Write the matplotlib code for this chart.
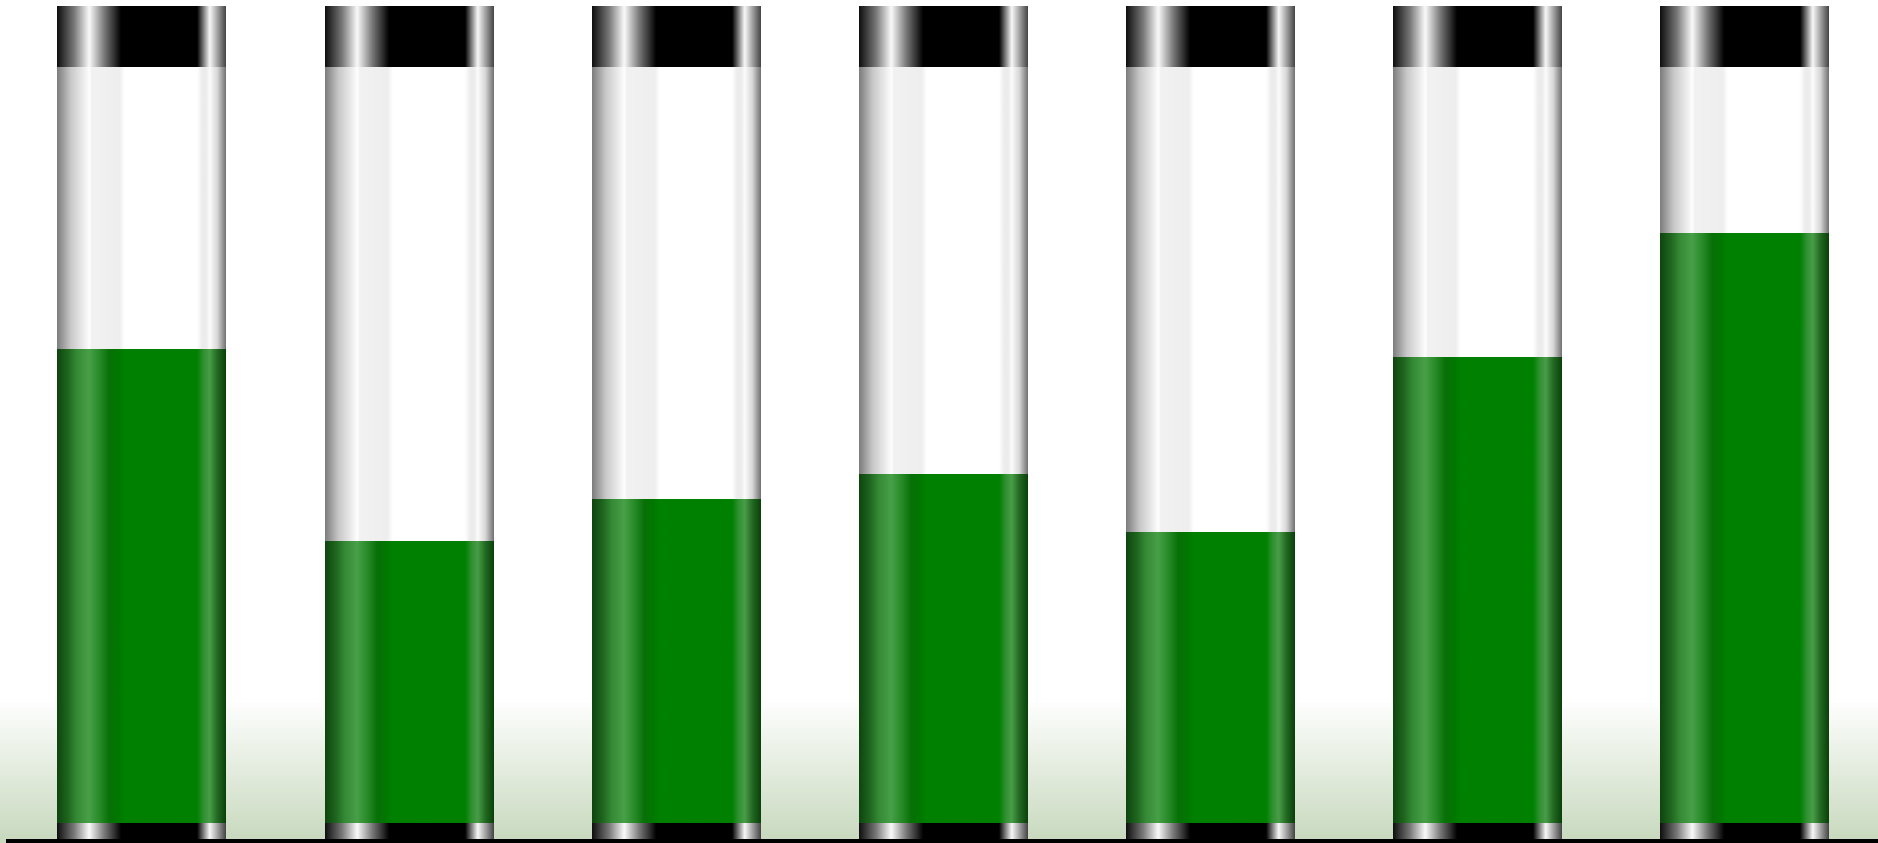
import matplotlib
matplotlib.use('Agg')
import matplotlib.pyplot as plt
import numpy as np

# fill level of each tube, in percent of the tube's capacity
categories = ['1', '2', '3', '4', '5', '6', '7']
values = [62.7, 37.3, 42.9, 46.2, 38.5, 61.6, 78.1]
capacity = 100.0

fname = 'out.png'
width = 0.63        # bar width, as fraction of a category slot
cap_top = 7.94      # height of the black cap on top (data units)
cap_bottom = 2.3    # height of the black ring at the bottom

#-----

def profile(stops, n=400):
    """Horizontal colour profile across a tube, from (pos, rgb) stops."""
    pos = np.array([s[0] for s in stops])
    cols = np.array([s[1] for s in stops], dtype=float) / 255.0
    f = np.linspace(0, 1, n)
    img = np.stack([np.interp(f, pos, cols[:, k]) for k in range(3)], axis=-1)
    return img[np.newaxis, :, :]


def gray(v):
    return (v, v, v)


cap_prof = profile([(0, gray(15)), (0.1, gray(120)), (0.19, gray(250)),
                    (0.28, gray(120)), (0.38, gray(0)), (0.83, gray(0)),
                    (0.905, gray(248)), (1.0, gray(70))])
glass_prof = profile([(0, gray(125)), (0.08, gray(200)), (0.18, gray(248)),
                      (0.19, gray(255)), (0.205, gray(242)), (0.37, gray(238)),
                      (0.40, gray(255)), (0.83, gray(255)), (0.86, gray(236)),
                      (0.885, gray(236)), (0.905, gray(252)), (0.95, gray(215)),
                      (1.0, gray(115))])
green_prof = profile([(0, (15, 70, 15)), (0.06, (30, 100, 30)),
                      (0.12, (55, 140, 55)), (0.19, (72, 160, 72)),
                      (0.26, (35, 135, 35)), (0.31, (8, 112, 8)),
                      (0.37, (0, 122, 0)), (0.40, (0, 128, 0)),
                      (0.83, (0, 128, 0)), (0.87, (50, 145, 50)),
                      (0.905, (72, 158, 72)), (0.95, (35, 105, 35)),
                      (1.0, (10, 65, 10))])

W, H = 1878, 843
fig = plt.figure(figsize=(W / 100, H / 100), dpi=100)

# soft green floor behind everything
bg = fig.add_axes([0, 0, 1, 1])
yy = np.linspace(0, 1, 300)
t = np.clip(1 - yy / (143 / H), 0, 1)
top_c = np.array([1.0, 1.0, 1.0])
bot_c = np.array([200, 217, 190]) / 255.0
grad = top_c[None, :] * (1 - t[:, None]) + bot_c[None, :] * t[:, None]
bg.imshow(grad[:, np.newaxis, :], extent=(0, 1, 0, 1), origin='lower',
          aspect='auto', interpolation='bilinear')
bg.set_xlim(0, 1)
bg.set_ylim(0, 1)
bg.axis('off')

ax = fig.add_axes([8 / W, 2.5 / H, 1 - 8 / W, 840.5 / H])
ax.patch.set_visible(False)

x = np.arange(len(categories))
empty = [capacity - v for v in values]

layers = [
    (ax.bar(x, [cap_bottom] * len(x), width, bottom=-cap_bottom), cap_prof),
    (ax.bar(x, values, width), green_prof),
    (ax.bar(x, empty, width, bottom=values), glass_prof),
    (ax.bar(x, [cap_top] * len(x), width, bottom=capacity), cap_prof),
]

for rects, prof in layers:
    for rect in rects:
        rect.set_visible(False)
        x0, y0 = rect.get_x(), rect.get_y()
        ax.imshow(prof, extent=(x0, x0 + rect.get_width(), y0, y0 + rect.get_height()),
                  aspect='auto', interpolation='bilinear', zorder=2)

ax.set_xlim(-0.5, len(x) - 0.5)
ax.set_ylim(-cap_bottom - 0.015, 108.86)
ax.set_xticks([])
ax.set_yticks([])
for side in ['top', 'left', 'right']:
    ax.spines[side].set_visible(False)
ax.spines['bottom'].set_linewidth(3.6)
ax.spines['bottom'].set_color('black')
ax.spines['bottom'].set_zorder(5)

plt.savefig(fname, dpi=100)
